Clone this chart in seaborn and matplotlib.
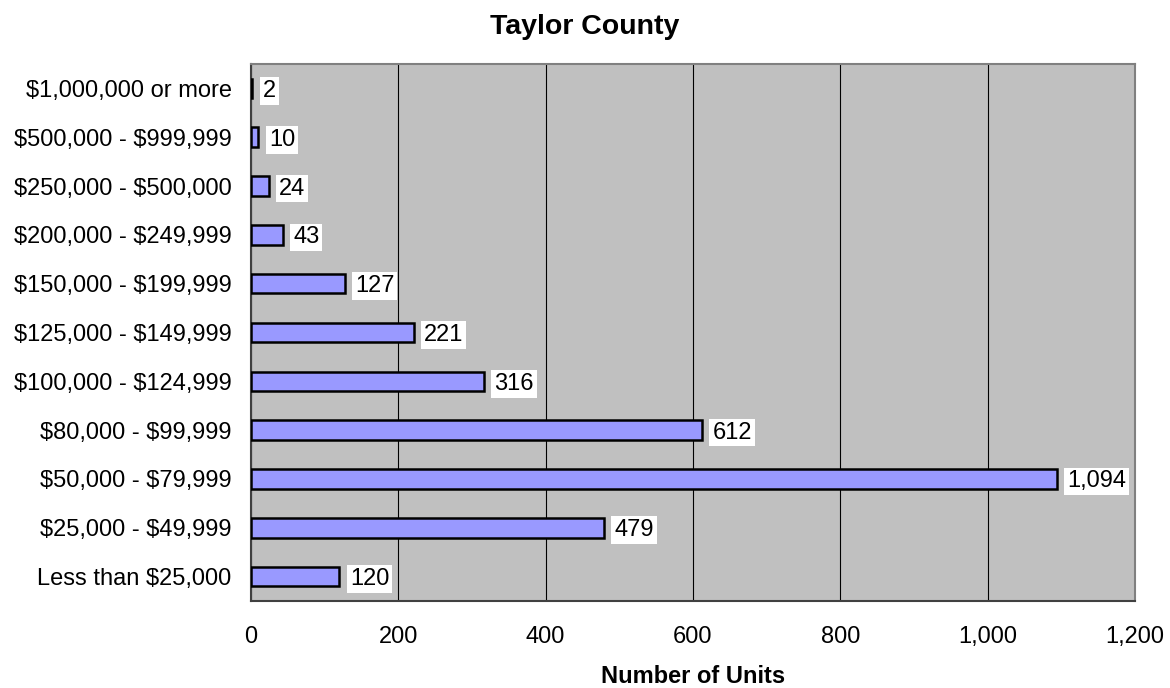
import numpy as np
import pandas as pd
import matplotlib
matplotlib.use("Agg")
import matplotlib.pyplot as plt
import seaborn as sns
from matplotlib.ticker import FuncFormatter, FixedLocator

categories = [
    "$1,000,000 or more",
    "$500,000 - $999,999",
    "$250,000 - $500,000",
    "$200,000 - $249,999",
    "$150,000 - $199,999",
    "$125,000 - $149,999",
    "$100,000 - $124,999",
    "$80,000 - $99,999",
    "$50,000 - $79,999",
    "$25,000 - $49,999",
    "Less than $25,000",
]
units = [2, 10, 24, 43, 127, 221, 316, 612, 1094, 479, 120]
x_ticks = [0, 200, 400, 600, 800, 1000, 1200]

sns.set_style("white")
plt.rcParams["font.family"] = ["Liberation Sans", "DejaVu Sans"]
plt.rcParams["text.parse_math"] = False
plt.rcParams["text.color"] = "black"
plt.rcParams["xtick.color"] = "black"
plt.rcParams["ytick.color"] = "black"
plt.rcParams["axes.labelcolor"] = "black"

df = pd.DataFrame({"category": categories, "units": units})

fig = plt.figure(figsize=(11.7, 6.88), dpi=100)
ax = fig.add_axes([251 / 1170, 1 - 601 / 688, (1135 - 251) / 1170, (601 - 64) / 688])
ax.set_facecolor("#C0C0C0")

sns.barplot(data=df, x="units", y="category", order=categories, orient="h",
            color="#9999FF", saturation=1, width=0.4, edgecolor="black",
            linewidth=1.8, ax=ax, zorder=3)

ax.set_xlim(0, 1200)
ax.set_ylim(len(categories) - 0.5, -0.5)
ax.xaxis.set_major_locator(FixedLocator(x_ticks))
ax.xaxis.set_major_formatter(FuncFormatter(lambda v, p: f"{int(v):,}"))
ax.grid(axis="x", color="black", linewidth=0.8, zorder=0)
ax.set_axisbelow(True)

# category tick marks sit between the bars
ax.set_yticks(np.arange(len(categories)))
ax.set_yticklabels(categories)
ax.set_yticks(np.arange(-0.5, len(categories), 1.0), minor=True)
ax.tick_params(axis="y", which="major", length=0, pad=14, labelsize=17, labelcolor="black")
ax.tick_params(axis="y", which="minor", length=6, width=1, color="#404040", direction="out")
ax.tick_params(axis="x", which="major", length=7, width=1, color="#404040",
               direction="out", pad=11, labelsize=17, labelcolor="black")

for side in ("left", "bottom"):
    ax.spines[side].set_color("#404040")
    ax.spines[side].set_linewidth(1.5)
for side in ("top", "right"):
    ax.spines[side].set_color("#808080")
    ax.spines[side].set_linewidth(1.5)
    ax.spines[side].set_visible(True)

ax.set_ylabel("")
ax.set_xlabel("")
fig.text((251 + 1135) / 2 / 1170, 1 - 683 / 688, "Number of Units", ha="center",
         va="baseline", fontsize=17, fontweight="bold", color="black")
fig.text(0.5, 1 - 27 / 688, "Taylor County", ha="center", va="center",
         fontsize=20.5, fontweight="bold", color="black")

for i, v in enumerate(units):
    ax.annotate(f"{v:,}", xy=(v, i), xytext=(7.5, 0), textcoords="offset points",
                ha="left", va="center_baseline", fontsize=17, zorder=5, color="black",
                bbox=dict(facecolor="white", edgecolor="none", pad=2))

fig.savefig("out.png", dpi=100)
